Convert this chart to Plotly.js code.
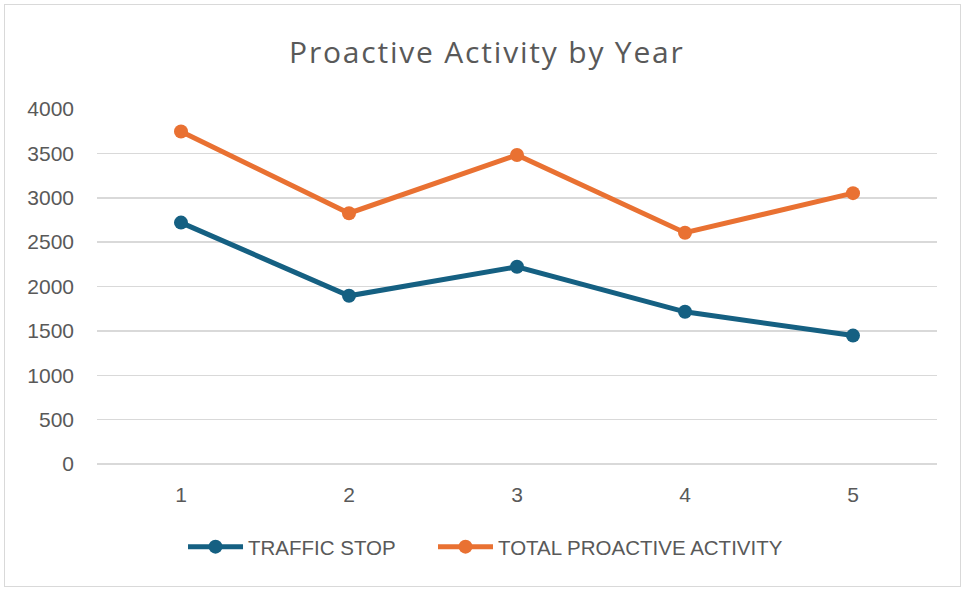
<!DOCTYPE html>
<html>
<head>
<meta charset="utf-8">
<script src="https://cdn.plot.ly/plotly-3.0.1.min.js"></script>
<style>
  html, body { margin: 0; padding: 0; background: #fff; }
  #wrap { position: relative; width: 964px; height: 592px; }
  #chart { position: absolute; left: 0; top: 0; width: 964px; height: 592px; }
  #border { position: absolute; left: 4px; top: 4px; width: 955px; height: 581px; border: 1.5px solid #d9d9d9; pointer-events: none; }
  .gtitle { letter-spacing: 1.8px; }
</style>
</head>
<body>
<div id="wrap">
  <div id="chart"></div>
  <div id="border"></div>
</div>
<script>
const years = [1, 2, 3, 4, 5];
const trafficStop = [2720, 1895, 2222, 1715, 1447];
const totalProactive = [3747, 2826, 3482, 2606, 3052];
const seriesNames = ["TRAFFIC STOP", "TOTAL PROACTIVE ACTIVITY"];
const yTicks = [0, 500, 1000, 1500, 2000, 2500, 3000, 3500, 4000];

const tickFont = "Liberation Sans, Arial, sans-serif";
const titleFont = "Open Sans, sans-serif";

const traces = [
  {
    x: years, y: trafficStop, name: seriesNames[0], type: "scatter", mode: "lines+markers",
    line: { color: "#156082", width: 5 },
    marker: { color: "#156082", size: 14 },
    legend: "legend"
  },
  {
    x: years, y: totalProactive, name: seriesNames[1], type: "scatter", mode: "lines+markers",
    line: { color: "#E97132", width: 5 },
    marker: { color: "#E97132", size: 14 },
    legend: "legend2"
  }
];

const legendBase = {
  orientation: "h", y: -0.177, yanchor: "top", xanchor: "left",
  font: { family: tickFont, size: 20.5, color: "#595959" },
  itemwidth: 55, bgcolor: "rgba(0,0,0,0)"
};

const layout = {
  width: 964, height: 592,
  margin: { l: 97, r: 27, t: 109, b: 128 },
  paper_bgcolor: "#fff", plot_bgcolor: "#fff",
  font: { family: tickFont, color: "#595959" },
  title: {
    text: "Proactive Activity by Year",
    font: { family: titleFont, size: 30, color: "#595959" },
    x: 0.505, xanchor: "center", xref: "container",
    y: 0.911, yanchor: "middle", yref: "container"
  },
  xaxis: {
    range: [0.5, 5.5], tickvals: years, ticktext: years.map(String),
    showgrid: false, zeroline: false, showline: false,
    ticks: "", ticklabelstandoff: 16,
    tickfont: { family: tickFont, size: 21, color: "#595959" }
  },
  yaxis: {
    range: [0, 4000], tickvals: yTicks, ticktext: yTicks.map(String),
    showgrid: true, gridcolor: "#d9d9d9", gridwidth: 1.5,
    zeroline: true, zerolinecolor: "#d9d9d9", zerolinewidth: 1.5,
    showline: false, ticks: "", ticklabelstandoff: 22,
    tickfont: { family: tickFont, size: 21, color: "#595959" }
  },
  showlegend: true,
  legend: Object.assign({}, legendBase, { x: 0.1024 }),
  legend2: Object.assign({}, legendBase, { x: 0.400 })
};

Plotly.newPlot("chart", traces, layout, { staticPlot: true, displayModeBar: false });
</script>
</body>
</html>
